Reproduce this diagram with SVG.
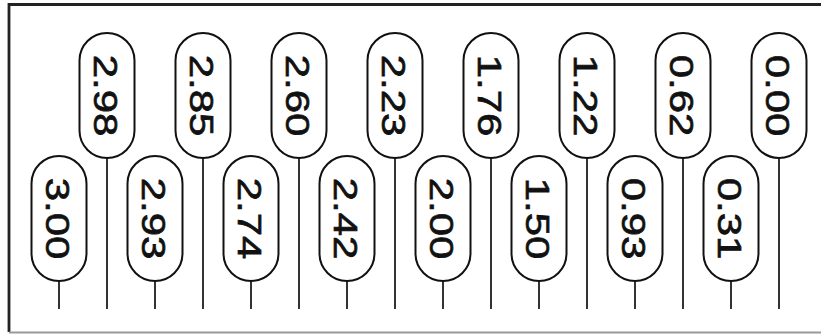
<svg xmlns="http://www.w3.org/2000/svg" width="821" height="335" viewBox="0 0 821 335">
<style>
.pill{fill:#fff;stroke:#111;stroke-width:2}
.lbl{font-family:"Liberation Sans",Arial,sans-serif;font-size:33px;fill:#111;stroke:#111;stroke-width:0.7;text-anchor:middle}
.conn line{stroke:#333;stroke-width:2}
</style>
<rect width="821" height="335" fill="#fff"/>
<path d="M9,332 V4.5 H830" fill="none" stroke="#222" stroke-width="2.8"/>
<line x1="9" y1="332.5" x2="821" y2="332.5" stroke="#999" stroke-width="2"/>
<g id="connectors" class="conn">
<line x1="59" y1="281" x2="59" y2="309"/>
<line x1="107" y1="158" x2="107" y2="309"/>
<line x1="155" y1="281" x2="155" y2="309"/>
<line x1="203" y1="158" x2="203" y2="309"/>
<line x1="251" y1="281" x2="251" y2="309"/>
<line x1="299" y1="158" x2="299" y2="309"/>
<line x1="347" y1="281" x2="347" y2="309"/>
<line x1="395" y1="158" x2="395" y2="309"/>
<line x1="443" y1="281" x2="443" y2="309"/>
<line x1="491" y1="158" x2="491" y2="309"/>
<line x1="539" y1="281" x2="539" y2="309"/>
<line x1="587" y1="158" x2="587" y2="309"/>
<line x1="635" y1="281" x2="635" y2="309"/>
<line x1="683" y1="158" x2="683" y2="309"/>
<line x1="731" y1="281" x2="731" y2="309"/>
<line x1="779" y1="158" x2="779" y2="309"/>
</g>
<g id="n0"><rect class="pill" x="31.5" y="156" width="55" height="125" rx="27.5"/><text class="lbl" transform="translate(45.5,218.5) rotate(90) scale(1.27,1)">3.00</text></g>
<g id="n1"><rect class="pill" x="79.5" y="33" width="55" height="125" rx="27.5"/><text class="lbl" transform="translate(93.5,95.5) rotate(90) scale(1.27,1)">2.98</text></g>
<g id="n2"><rect class="pill" x="127.5" y="156" width="55" height="125" rx="27.5"/><text class="lbl" transform="translate(141.5,218.5) rotate(90) scale(1.27,1)">2.93</text></g>
<g id="n3"><rect class="pill" x="175.5" y="33" width="55" height="125" rx="27.5"/><text class="lbl" transform="translate(189.5,95.5) rotate(90) scale(1.27,1)">2.85</text></g>
<g id="n4"><rect class="pill" x="223.5" y="156" width="55" height="125" rx="27.5"/><text class="lbl" transform="translate(237.5,218.5) rotate(90) scale(1.27,1)">2.74</text></g>
<g id="n5"><rect class="pill" x="271.5" y="33" width="55" height="125" rx="27.5"/><text class="lbl" transform="translate(285.5,95.5) rotate(90) scale(1.27,1)">2.60</text></g>
<g id="n6"><rect class="pill" x="319.5" y="156" width="55" height="125" rx="27.5"/><text class="lbl" transform="translate(333.5,218.5) rotate(90) scale(1.27,1)">2.42</text></g>
<g id="n7"><rect class="pill" x="367.5" y="33" width="55" height="125" rx="27.5"/><text class="lbl" transform="translate(381.5,95.5) rotate(90) scale(1.27,1)">2.23</text></g>
<g id="n8"><rect class="pill" x="415.5" y="156" width="55" height="125" rx="27.5"/><text class="lbl" transform="translate(429.5,218.5) rotate(90) scale(1.27,1)">2.00</text></g>
<g id="n9"><rect class="pill" x="463.5" y="33" width="55" height="125" rx="27.5"/><text class="lbl" transform="translate(477.5,95.5) rotate(90) scale(1.27,1)">1.76</text></g>
<g id="n10"><rect class="pill" x="511.5" y="156" width="55" height="125" rx="27.5"/><text class="lbl" transform="translate(525.5,218.5) rotate(90) scale(1.27,1)">1.50</text></g>
<g id="n11"><rect class="pill" x="559.5" y="33" width="55" height="125" rx="27.5"/><text class="lbl" transform="translate(573.5,95.5) rotate(90) scale(1.27,1)">1.22</text></g>
<g id="n12"><rect class="pill" x="607.5" y="156" width="55" height="125" rx="27.5"/><text class="lbl" transform="translate(621.5,218.5) rotate(90) scale(1.27,1)">0.93</text></g>
<g id="n13"><rect class="pill" x="655.5" y="33" width="55" height="125" rx="27.5"/><text class="lbl" transform="translate(669.5,95.5) rotate(90) scale(1.27,1)">0.62</text></g>
<g id="n14"><rect class="pill" x="703.5" y="156" width="55" height="125" rx="27.5"/><text class="lbl" transform="translate(717.5,218.5) rotate(90) scale(1.27,1)">0.31</text></g>
<g id="n15"><rect class="pill" x="751.5" y="33" width="55" height="125" rx="27.5"/><text class="lbl" transform="translate(765.5,95.5) rotate(90) scale(1.27,1)">0.00</text></g>
</svg>
